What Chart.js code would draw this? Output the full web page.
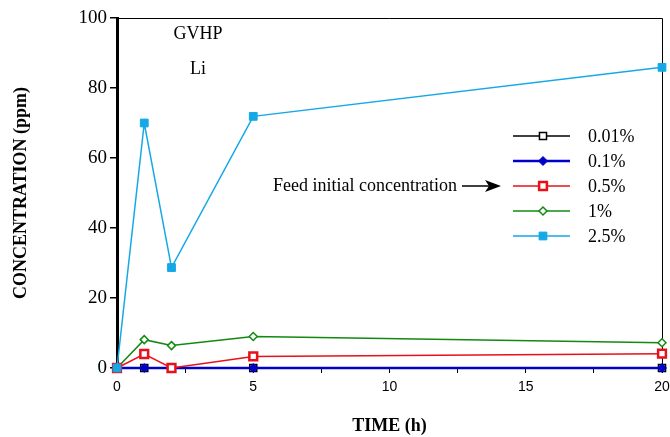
<!DOCTYPE html>
<html>
<head>
<meta charset="utf-8">
<script src="https://cdn.jsdelivr.net/npm/chart.js@4.4.1/dist/chart.umd.min.js"></script>
<style>
html,body{margin:0;padding:0;background:#fff;}
#wrap{width:670px;height:437px;position:relative;}
</style>
</head>
<body>
<div id="wrap"><canvas id="c" width="670" height="437"></canvas></div>
<script>
const times = [0, 1, 2, 5, 20];
const seriesLabels = ['0.01%', '0.1%', '0.5%', '1%', '2.5%'];
const s001 = [0, 0, 0, 0, 0];
const s01 = [0, 0, 0, 0, 0];
const s05 = [0, 4.0, 0, 3.3, 4.1];
const s1 = [0, 8.1, 6.4, 9.0, 7.2];
const s25 = [0, 70.0, 28.7, 71.9, 85.9];
const yTicks = [0, 20, 40, 60, 80, 100];
const xTicks = [0, 5, 10, 15, 20];

const pts = arr => arr.map((v, i) => ({x: times[i], y: v}));
const SERIF = '"Liberation Serif", "Times New Roman", serif';
const SANS = '"Liberation Sans", Arial, sans-serif';

const datasets = [
  {label: seriesLabels[0], data: pts(s001), borderColor: '#000', borderWidth: 1.5,
   pointStyle: 'rect', pointRadius: 5, pointBackgroundColor: '#fff', pointBorderColor: '#000', pointBorderWidth: 1.5, order: 5},
  {label: seriesLabels[1], data: pts(s01), borderColor: '#0000c8', borderWidth: 2.5,
   pointStyle: 'rectRot', pointRadius: 4.5, pointBackgroundColor: '#0000c8', pointBorderColor: '#0000c8', pointBorderWidth: 1, order: 4},
  {label: seriesLabels[2], data: pts(s05), borderColor: '#e8101a', borderWidth: 1.5,
   pointStyle: 'rect', pointRadius: 5.5, pointBackgroundColor: '#fff', pointBorderColor: '#e8101a', pointBorderWidth: 2.5, order: 2},
  {label: seriesLabels[3], data: pts(s1), borderColor: '#128a12', borderWidth: 1.5,
   pointStyle: 'rectRot', pointRadius: 4, pointBackgroundColor: '#fff', pointBorderColor: '#128a12', pointBorderWidth: 1.5, order: 3},
  {label: seriesLabels[4], data: pts(s25), borderColor: '#14a8e6', borderWidth: 1.5,
   pointStyle: 'rect', pointRadius: 5.5, pointBackgroundColor: '#14a8e6', pointBorderColor: '#14a8e6', pointBorderWidth: 1, order: 1}
];
datasets.forEach(d => { d.clip = false; d.tension = 0; d.fill = false; });

const overlay = {
  id: 'overlay',
  beforeDatasetsDraw(chart) {
    const {ctx, chartArea: a} = chart;
    ctx.save();
    ctx.strokeStyle = '#000';
    ctx.lineWidth = 1;
    ctx.beginPath();
    ctx.moveTo(a.left, a.top + 0.5);
    ctx.lineTo(a.right + 0.5, a.top + 0.5);
    ctx.lineTo(a.right + 0.5, a.bottom);
    ctx.stroke();
    ctx.restore();
  },
  afterDraw(chart) {
    const {ctx, chartArea: a} = chart;
    ctx.save();
    ctx.fillStyle = '#000';
    ctx.font = '18px ' + SERIF;
    ctx.textBaseline = 'middle';
    ctx.textAlign = 'center';
    ctx.fillText('GVHP', a.left + 81, a.top + 16);
    ctx.fillText('Li', a.left + 81, a.top + 51);
    // legend
    const lx0 = a.left + 396, lx1 = a.left + 453, mx = a.left + 426, tx = a.left + 471;
    const rows = [a.top + 118, a.top + 143, a.top + 168, a.top + 193, a.top + 218];
    chart.data.datasets.forEach((d, i) => {
      const y = rows[i];
      ctx.strokeStyle = d.borderColor;
      ctx.lineWidth = d.borderWidth;
      ctx.beginPath(); ctx.moveTo(lx0, y); ctx.lineTo(lx1, y); ctx.stroke();
      ctx.fillStyle = d.pointBackgroundColor;
      ctx.strokeStyle = d.pointBorderColor;
      ctx.lineWidth = d.pointBorderWidth;
      Chart.helpers.drawPoint(ctx, {pointStyle: d.pointStyle, radius: d.pointRadius, borderWidth: d.pointBorderWidth, rotation: 0}, mx, y);
      ctx.fillStyle = '#000';
      ctx.textAlign = 'left';
      ctx.fillText(d.label, tx, y + 1);
    });
    // annotation
    const ay = rows[2];
    ctx.textAlign = 'right';
    ctx.fillStyle = '#000';
    ctx.fillText('Feed initial concentration', a.left + 340, ay);
    ctx.strokeStyle = '#000';
    ctx.lineWidth = 1.5;
    ctx.beginPath(); ctx.moveTo(a.left + 345, ay); ctx.lineTo(a.left + 372, ay); ctx.stroke();
    ctx.beginPath();
    ctx.moveTo(a.left + 384, ay);
    ctx.lineTo(a.left + 368, ay - 6);
    ctx.lineTo(a.left + 372, ay);
    ctx.lineTo(a.left + 368, ay + 6);
    ctx.closePath();
    ctx.fill();
    ctx.restore();
  }
};

new Chart(document.getElementById('c'), {
  type: 'line',
  data: {datasets},
  plugins: [overlay],
  options: {
    responsive: false,
    animation: false,
    devicePixelRatio: 1,
    layout: {padding: {left: 11, right: 8, top: 18, bottom: 0}},
    plugins: {legend: {display: false}, tooltip: {enabled: false}},
    scales: {
      x: {
        type: 'linear', min: 0, max: 20,
        afterBuildTicks(s) {
          const t = [];
          for (let v = 0; v <= 20; v += 2.5) t.push({value: v});
          s.ticks = t;
        },
        afterFit(s) { s.height = 69; s.paddingLeft = 0; s.paddingRight = 0; },
        ticks: {
          autoSkip: false, maxRotation: 0, padding: 6, color: '#000',
          font: {family: SANS, size: 14},
          callback: v => xTicks.includes(v) ? String(v) : ''
        },
        grid: {drawOnChartArea: false, drawTicks: true, tickLength: 5, color: '#000', lineWidth: 1},
        border: {display: true, color: '#000', width: 1},
        title: {display: true, text: 'TIME (h)', color: '#000', font: {family: SERIF, size: 18, weight: 'bold'}, padding: {top: 14, bottom: 0}}
      },
      y: {
        type: 'linear', min: 0, max: 100,
        afterBuildTicks(s) { s.ticks = yTicks.map(v => ({value: v})); },
        afterFit(s) { s.width = 106; },
        ticks: {color: '#000', padding: 3, font: {family: SERIF, size: 19}},
        grid: {drawOnChartArea: false, drawTicks: true, tickLength: 7, color: '#000', lineWidth: 1.5},
        border: {display: true, color: '#000', width: 3},
        title: {display: true, text: 'CONCENTRATION (ppm)', color: '#000', font: {family: SERIF, size: 18, weight: 'bold'}, padding: {top: 0, bottom: 0}}
      }
    }
  }
});
</script>
</body>
</html>
